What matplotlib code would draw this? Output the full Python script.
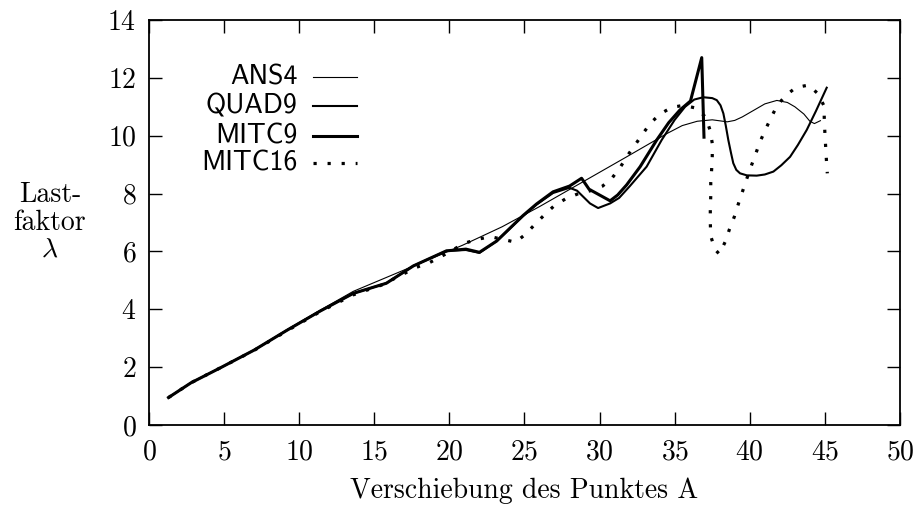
import matplotlib
matplotlib.use("Agg")
import matplotlib.pyplot as plt
from matplotlib.lines import Line2D

plt.rcParams["font.family"] = ["cmr10"]
plt.rcParams["mathtext.fontset"] = "cm"
plt.rcParams["axes.formatter.use_mathtext"] = True

# Load factor vs. displacement of point A for four element types
ans4_x = [1.3, 2.8, 4.8, 7.0, 9.2, 11.4, 13.6, 15.8, 18.0, 20.9, 23.5, 26.0,
          28.7, 31.8, 33.7, 34.5, 35.5, 36.5, 37.5, 38.5, 39.0, 39.5, 40.0,
          40.5, 41.0, 41.8, 42.5, 43.0, 43.6, 44.0, 44.3, 44.7]
ans4_y = [0.95, 1.46, 1.99, 2.6, 3.3, 3.97, 4.62, 5.1, 5.58, 6.22, 6.85, 7.55,
          8.35, 9.27, 9.84, 10.08, 10.35, 10.5, 10.55, 10.48, 10.53, 10.65, 10.8,
          10.95, 11.1, 11.22, 11.15, 11.0, 10.75, 10.5, 10.42, 10.52]

quad9_x = [1.3, 2.8, 4.8, 7.0, 9.2, 11.4, 13.6, 15.8, 17.6, 19.8, 21.1, 22.0,
           23.15, 24.9, 25.8, 26.9, 28.0, 28.5, 29.36, 29.9, 30.7, 31.3, 32.0,
           33.13, 34.13, 35.0, 35.69, 36.3, 36.9, 37.5, 37.8, 38.05, 38.24,
           38.4, 38.57, 38.75, 38.9, 39.1, 39.35, 39.8, 40.46, 41.0, 41.57,
           42.1, 42.68, 43.2, 43.79, 44.4, 45.12]
quad9_y = [0.95, 1.46, 1.99, 2.59, 3.28, 3.94, 4.55, 4.9, 5.5, 6.02, 6.05, 5.95,
           6.36, 7.22, 7.62, 8.02, 8.2, 8.1, 7.66, 7.5, 7.66, 7.85, 8.25,
           8.93, 9.85, 10.55, 11.0, 11.25, 11.33, 11.3, 11.23, 11.05, 10.77,
           10.35, 9.85, 9.4, 9.05, 8.82, 8.7, 8.63, 8.62, 8.66, 8.76,
           8.98, 9.27, 9.68, 10.2, 10.85, 11.66]

mitc9_x = [1.3, 2.8, 4.8, 7.0, 9.2, 11.4, 13.6, 15.8, 17.6, 19.8, 21.1, 22.0,
           23.15, 24.9, 25.8, 26.9, 28.0, 28.8, 29.3, 30.7, 31.2, 31.8, 32.7,
           33.8, 34.6, 35.35, 36.05, 36.8, 36.95]
mitc9_y = [0.95, 1.46, 1.99, 2.59, 3.28, 3.94, 4.55, 4.9, 5.5, 6.02, 6.08, 5.97,
           6.36, 7.24, 7.64, 8.06, 8.26, 8.53, 8.15, 7.75, 7.95, 8.3, 8.93,
           9.85, 10.45, 10.89, 11.2, 12.7, 9.95]

mitc16_x = [1.3, 2.8, 4.8, 7.0, 9.2, 11.4, 13.6, 15.5, 17.8, 18.7, 19.44, 20.99,
            21.86, 22.75, 23.52, 24.41, 25.08, 25.7, 26.3, 26.96, 27.74, 28.6,
            29.4, 30.2, 30.85, 31.4, 31.85, 32.36, 32.85, 33.38, 34.02, 34.8,
            35.6, 36.46, 37.06, 37.35, 37.5, 37.5, 37.46, 37.4, 37.4, 37.37,
            37.37, 37.4, 37.68, 37.97, 38.37, 38.64, 38.97, 39.23, 39.5, 39.79,
            40.08, 40.39, 40.68, 41.03, 41.43, 41.83, 42.41, 43.08, 43.92, 44.56,
            44.94, 44.96, 45.0, 45.05, 45.1, 45.16]
mitc16_y = [0.95, 1.46, 1.99, 2.58, 3.26, 3.92, 4.5, 4.84, 5.45, 5.62, 5.82, 6.28,
            6.42, 6.51, 6.42, 6.32, 6.6, 6.94, 7.25, 7.57, 7.82, 8.0,
            8.1, 8.26, 8.55, 8.93, 9.31, 9.68, 10.05, 10.43, 10.75, 10.98,
            11.05, 10.95, 10.64, 10.2, 9.74, 9.28, 8.84, 8.38, 7.92, 7.45,
            6.99, 6.53, 6.07, 5.91, 6.34, 6.76, 7.2, 7.63, 8.05, 8.5,
            8.93, 9.37, 9.79, 10.2, 10.64, 11.05, 11.4, 11.67, 11.75, 11.44,
            11.03, 10.53, 10.08, 9.62, 9.16, 8.7]

series_names = ["ANS4", "QUAD9", "MITC9", "MITC16"]
x_ticks = [0, 5, 10, 15, 20, 25, 30, 35, 40, 45, 50]
y_ticks = [0, 2, 4, 6, 8, 10, 12, 14]

styles = [
    dict(color="black", lw=0.8, ls="-"),
    dict(color="black", lw=1.5, ls="-"),
    dict(color="black", lw=2.2, ls="-"),
    dict(color="black", lw=2.3, ls=(0, (1, 3.4)), dash_capstyle="butt"),
]

fig = plt.figure(figsize=(9.18, 5.09), dpi=100)
ax = fig.add_axes([0.1623, 0.165, 0.8181, 0.7957])

data = [(ans4_x, ans4_y), (quad9_x, quad9_y), (mitc9_x, mitc9_y), (mitc16_x, mitc16_y)]
for (xs, ys), st in zip(data, styles):
    ax.plot(xs, ys, solid_joinstyle="round", **st)

ax.set_xlim(0, 50)
ax.set_ylim(0, 14)
ax.set_xticks(x_ticks)
ax.set_yticks(y_ticks)
ax.tick_params(direction="in", length=9.5, width=1.0, top=True, right=True,
               labelsize=20)
ax.tick_params(axis="x", pad=10)
ax.tick_params(axis="y", pad=9)
for sp in ax.spines.values():
    sp.set_linewidth(1.3)

ax.set_xlabel("Verschiebung des Punktes A", fontsize=20, labelpad=9)
ax.text(-0.132, 0.5, "Last-\nfaktor\n$\\lambda$", transform=ax.transAxes,
        ha="center", va="center", fontsize=20, linespacing=1.05,
        multialignment="center")

# key: right-aligned names followed by line samples
rows = [0.859, 0.788, 0.714, 0.647]
for name, st, yr in zip(series_names, styles, rows):
    ax.text(0.198, yr, name, transform=ax.transAxes, ha="right", va="center",
            fontsize=20, family=["cmss10"])
    ax.add_line(Line2D([0.218, 0.277], [yr, yr], transform=ax.transAxes, **st))

fig.savefig("out.png", dpi=100)
